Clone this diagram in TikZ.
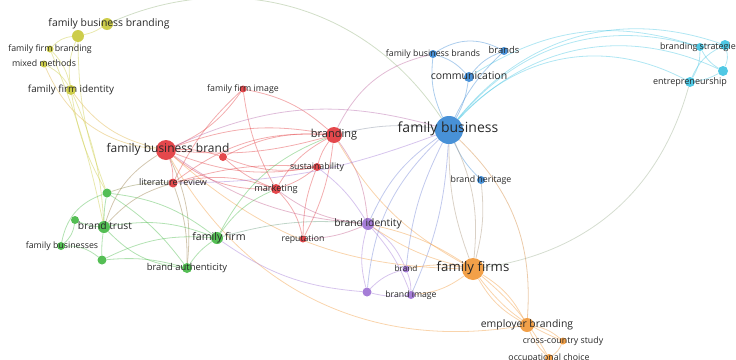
\documentclass[tikz,border=0pt]{standalone}
\usepackage{fontspec}
\setmainfont{Open Sans}
\definecolor{cR}{RGB}{228,72,76}
\definecolor{cG}{RGB}{84,190,84}
\definecolor{cB}{RGB}{72,145,215}
\definecolor{cY}{RGB}{205,205,75}
\definecolor{cP}{RGB}{165,125,215}
\definecolor{cC}{RGB}{80,200,228}
\definecolor{cO}{RGB}{242,160,72}
\definecolor{txt}{RGB}{40,40,40}
\pgfdeclarelayer{bg}
\pgfsetlayers{bg,main}
\begin{document}
\begin{tikzpicture}[x=1pt,y=1pt,
  dot/.style 2 args={circle, fill=#1, inner sep=0pt, minimum size=#2},
  lab/.style={text=txt, inner sep=0pt, anchor=mid, font=\fontsize{#1}{#1}\selectfont},
  ln/.style={draw=#1, draw opacity=0.45, line width=0.8pt}]
\useasboundingbox (0,0) rectangle (736,-359);
% yellow
\node[dot={cY}{12}] (fbb) at (107,-24) {};
\node[dot={cY}{12}] (y2) at (78,-36) {};
\node[dot={cY}{7}] (ffb) at (50,-49) {};
\node[dot={cY}{7}] (mm) at (44,-64) {};
\node[dot={cY}{10}] (ffi) at (71,-90) {};
% red
\node[dot={cR}{20}] (fbbr) at (166,-150) {};
\node[dot={cR}{7}] (ffim) at (243,-89) {};
\node[dot={cR}{16}] (br) at (334,-135) {};
\node[dot={cR}{8}] (r4) at (223,-157) {};
\node[dot={cR}{8}] (sus) at (317,-167) {};
\node[dot={cR}{9}] (lr) at (173,-183) {};
\node[dot={cR}{10}] (mk) at (276,-189) {};
\node[dot={cR}{7}] (rep) at (303,-239) {};
% green
\node[dot={cG}{12}] (bt) at (104,-227) {};
\node[dot={cG}{9}] (g2) at (107,-193) {};
\node[dot={cG}{8}] (g3) at (75,-220) {};
\node[dot={cG}{8}] (fbs) at (61,-246) {};
\node[dot={cG}{9}] (g5) at (102,-260) {};
\node[dot={cG}{12}] (ff) at (217,-238) {};
\node[dot={cG}{10}] (ba) at (187,-268) {};
% blue
\node[dot={cB}{28}] (fb) at (449,-130) {};
\node[dot={cB}{8}] (fbbs) at (433,-54) {};
\node[dot={cB}{8}] (brs) at (504,-51) {};
\node[dot={cB}{10}] (com) at (469,-77) {};
\node[dot={cB}{8}] (bh) at (481,-180) {};
% cyan
\node[dot={cC}{8}] (bs) at (700,-47) {};
\node[dot={cC}{10}] (c2) at (725,-45) {};
\node[dot={cC}{10}] (c3) at (723,-71) {};
\node[dot={cC}{10}] (ent) at (690,-82) {};
% purple
\node[dot={cP}{12}] (bi) at (368,-224) {};
\node[dot={cP}{7}] (bd) at (406,-269) {};
\node[dot={cP}{9}] (p3) at (367,-292) {};
\node[dot={cP}{8}] (bim) at (411,-295) {};
% orange
\node[dot={cO}{22}] (ffs) at (473,-269) {};
\node[dot={cO}{14}] (eb) at (527,-325) {};
\node[dot={cO}{7}] (cc) at (563,-341) {};
\node[dot={cO}{8}] (oc) at (549,-358) {};
% labels
\node[lab=10.4] (lfbb) at (109,-24) {family business branding};
\node[lab=8.8] (lffb) at (50,-49) {family firm branding};
\node[lab=8.8] (lmm) at (44,-64) {mixed methods};
\node[lab=9.8] (lffi) at (71,-90) {family firm identity};
\node[lab=12] (lfbbr) at (168,-150) {family business brand};
\node[lab=8.8] (lffim) at (243,-89) {family firm image};
\node[lab=11] (lbr) at (334,-135) {branding};
\node[lab=8.8] (lsus) at (317,-167) {sustainability};
\node[lab=9] (llr) at (173,-183) {literature review};
\node[lab=9.2] (lmk) at (276,-189) {marketing};
\node[lab=8.7] (lrep) at (303,-239) {reputation};
\node[lab=10.3] (lbt) at (105,-227) {brand trust};
\node[lab=8.8] (lfbs) at (62,-246) {family businesses};
\node[lab=10.6] (lff) at (219,-238) {family firm};
\node[lab=9.4] (lba) at (187,-268) {brand authenticity};
\node[lab=14] (lfb) at (448,-130) {family business};
\node[lab=8.8] (lfbbs) at (433,-54) {family business brands};
\node[lab=9.4] (lbrs) at (504,-51) {brands};
\node[lab=10.5] (lcom) at (469,-77) {communication};
\node[lab=8.8] (lbh) at (481,-180) {brand heritage};
\node[lab=8.9] (lbs) at (700,-47) {branding strategies};
\node[lab=9] (lent) at (690,-82) {entrepreneurship};
\node[lab=10.3] (lbi) at (368,-224) {brand identity};
\node[lab=8.2] (lbd) at (406,-269) {brand};
\node[lab=8.7] (lbim) at (411,-295) {brand image};
\node[lab=13.2] (lffs) at (473,-269) {family firms};
\node[lab=10.4] (leb) at (527,-325) {employer branding};
\node[lab=8.8] (lcc) at (563,-341) {cross-country study};
\node[lab=8.8] (loc) at (549,-358) {occupational choice};
\begin{pgfonlayer}{bg}
% yellow
\draw[ln=cY] (fbb) to[bend left=10] (y2);
\draw[ln=cY] (y2) to[bend right=20] (ffb);
\draw[ln=cY] (y2) to[bend right=15] (ffi);
\draw[ln=cY] (ffb) to[bend left=15] (ffi);
\draw[ln=cY] (mm) to[bend left=15] (ffi);
\draw[ln=cY] (ffi) to[bend right=10] (g2);
\draw[ln=cY] (ffi) to[bend left=10] (bt);
\draw[ln=cY] (y2) to[bend right=10] (g2);
\draw[ln=cY] (ffb) to[bend left=5] (bt);
\draw[ln=cY!60!cB] (fbb) to[bend left=40] (fb);
\draw[ln=cY!50!cO] (mm) to[bend right=30] (fbbr);
\draw[ln=cY!50!cO] (ffi) to[bend right=20] (fbbr);
% red
\draw[ln=cR] (fbbr) to[bend right=15] (ffim);
\draw[ln=cR] (ffim) to[bend right=10] (lr);
\draw[ln=cR] (ffim) to[bend left=15] (br);
\draw[ln=cR] (ffim) to[bend right=10] (mk);
\draw[ln=cR] (fbbr) to[bend left=15] (br);
\draw[ln=cR] (fbbr) to[bend right=10] (br);
\draw[ln=cR] (fbbr) to[bend left=10] (r4);
\draw[ln=cR] (fbbr) to[bend right=15] (sus);
\draw[ln=cR] (fbbr) to[bend right=20] (mk);
\draw[ln=cR] (fbbr) to[bend left=10] (lr);
\draw[ln=cR] (r4) to[bend left=15] (br);
\draw[ln=cR] (r4) to[bend right=10] (mk);
\draw[ln=cR] (r4) to[bend right=15] (sus);
\draw[ln=cR] (lr) to[bend left=20] (br);
\draw[ln=cR] (lr) to[bend left=15] (mk);
\draw[ln=cR] (lr) to[bend left=10] (sus);
\draw[ln=cR] (br) to[bend right=10] (sus);
\draw[ln=cR] (br) to[bend right=15] (mk);
\draw[ln=cR] (br) to[bend left=10] (rep);
\draw[ln=cR] (mk) to[bend left=15] (rep);
\draw[ln=cR] (sus) to[bend left=10] (mk);
\draw[ln=cR] (sus) to[bend right=10] (rep);
\draw[ln=cR!50!cP] (br) to[bend left=15] (bi);
\draw[ln=cR!50!cP] (mk) to[bend right=15] (bi);
\draw[ln=cP] (sus) to[bend left=10] (bi);
\draw[ln=cR!50!cP] (rep) to[bend right=10] (bi);
\draw[ln=cC!60!cR] (br) to[bend left=10] (fb);
\draw[ln=cO] (br) to[bend right=15] (ffs);
\draw[ln=cP!70!cR] (fbbr) to[bend left=20] (fb);
\draw[ln=cR!50!cP] (fbbr) to[bend right=15] (bi);
\draw[ln=cO] (fbbr) to[bend right=20] (ffs);
\draw[ln=cO] (fbbr) to[bend right=35] (eb);
\draw[ln=cR!50!cG] (lr) to[bend left=10] (ba);
\draw[ln=cR!50!cG] (lr) to[bend right=15] (bt);
\draw[ln=cR!50!cG] (fbbr) to[bend right=20] (bt);
\draw[ln=cR!50!cG] (fbbr) to[bend left=15] (ba);
% green
\draw[ln=cG] (bt) to[bend left=5] (g2);
\draw[ln=cG] (bt) to[bend right=5] (g5);
\draw[ln=cG] (bt) to[bend left=10] (g3);
\draw[ln=cG] (g3) to[bend left=20] (fbs);
\draw[ln=cG] (fbs) to[bend left=20] (g5);
\draw[ln=cG] (g2) to[bend right=30] (fbs);
\draw[ln=cG] (g2) to[bend left=15] (ff);
\draw[ln=cG] (g2) to[bend left=10] (ba);
\draw[ln=cG] (bt) to[bend left=15] (ff);
\draw[ln=cG] (bt) to[bend right=20] (ba);
\draw[ln=cG] (g5) to[bend left=15] (ff);
\draw[ln=cG] (g5) to[bend left=10] (ba);
\draw[ln=cG] (ff) to[bend right=10] (ba);
\draw[ln=cG!60!cP] (ff) to[bend left=10] (bi);
\draw[ln=cG] (ff) to[bend left=20] (br);
\draw[ln=cG] (ff) to[bend left=15] (mk);
\draw[ln=cG!60!cR] (g2) to[bend left=10] (lr);
% blue
\draw[ln=cB] (fb) to[bend left=15] (fbbs);
\draw[ln=cB] (fb) to[bend right=10] (com);
\draw[ln=cB] (fb) to[bend left=10] (brs);
\draw[ln=cB] (com) to[bend right=15] (fbbs);
\draw[ln=cB] (com) to[bend left=15] (brs);
\draw[ln=cB] (fbbs) to[bend left=30] (brs);
\draw[ln=cB] (fb) to[bend right=10] (bh);
\draw[ln=cB!50!cP] (fb) to[bend right=15] (bi);
\draw[ln=cB!50!cP] (fb) to[bend right=10] (bd);
\draw[ln=cB!50!cP] (fb) to[bend left=10] (bim);
\draw[ln=cB!50!cP] (fb) to[bend right=20] (p3);
\draw[ln=cB!40!cO] (fb) to[bend left=15] (ffs);
\draw[ln=cB!40!cO] (fb) to[bend right=10] (ffs);
\draw[ln=cB!40!cO] (bh) to[bend left=10] (ffs);
\draw[ln=cP!60!cR] (fbbs) to[bend right=25] (br);
\draw[ln=cC] (fb) to[bend left=33] (bs);
\draw[ln=cC] (fb) to[bend left=35] (c2);
\draw[ln=cC] (fb) to[bend left=36] (c3);
\draw[ln=cC] (fb) to[bend left=38] (ent);
\draw[ln=cC] (com) to[bend left=25] (bs);
\draw[ln=brown!60!cO] (fb) to[bend left=25] (eb);
\draw[ln=cP] (lr) to[bend right=10] (fb);
% cyan
\draw[ln=cC] (bs) to[bend left=10] (c2);
\draw[ln=cC] (bs) to[bend right=15] (c3);
\draw[ln=cC] (bs) to[bend left=15] (ent);
\draw[ln=cC] (c2) to[bend left=20] (c3);
\draw[ln=cC] (c2) to[bend right=20] (ent);
\draw[ln=cC] (c3) to[bend left=10] (ent);
\draw[ln=cC!50!cO] (ffs) to[bend right=33] (ent);
% purple
\draw[ln=cP] (bi) to[bend left=15] (bd);
\draw[ln=cP] (bi) to[bend right=15] (p3);
\draw[ln=cP] (bi) to[bend left=10] (bim);
\draw[ln=cP] (p3) to[bend left=15] (bd);
\draw[ln=cP] (p3) to[bend right=10] (bim);
\draw[ln=cP] (bd) to[bend left=10] (bim);
\draw[ln=cO] (bim) to[bend right=15] (ffs);
\draw[ln=cO] (bi) to[bend left=10] (ffs);
\draw[ln=cO] (bi) to[bend right=10] (ffs);
\draw[ln=cO] (bd) to[bend left=10] (ffs);
\draw[ln=cP] (p3) to[bend left=15] (ff);
% orange
\draw[ln=cO] (ffs) to[bend left=15] (eb);
\draw[ln=cO] (ffs) to[bend right=15] (eb);
\draw[ln=cO] (ffs) to[bend right=15] (cc);
\draw[ln=cO] (ffs) to[bend left=10] (oc);
\draw[ln=cO] (eb) to[bend left=15] (cc);
\draw[ln=cO] (eb) to[bend right=10] (oc);
\draw[ln=cO] (cc) to[bend left=15] (oc);
\end{pgfonlayer}
\end{tikzpicture}
\end{document}
